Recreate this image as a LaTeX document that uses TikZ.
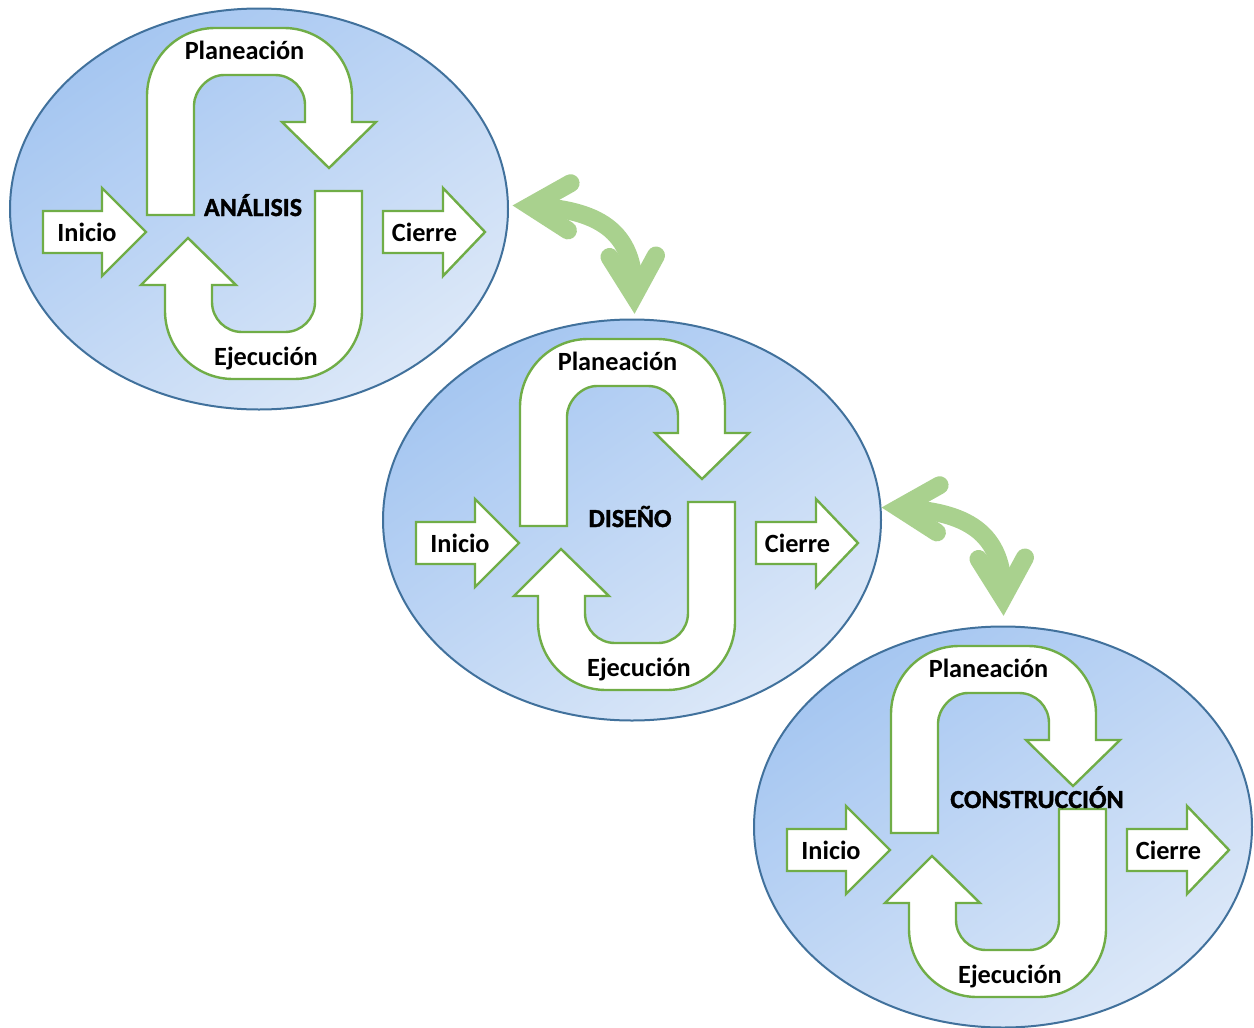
\documentclass[tikz,border=0pt]{standalone}
\usepackage{fontspec}
\setmainfont{Carlito}
\newfontfamily\heavyfont{Carlito Bold}[FakeBold=1.3]
\definecolor{ellborder}{HTML}{41719C}
\definecolor{elldark}{HTML}{A5C6F1}
\definecolor{elllight}{HTML}{DCE8F8}
\definecolor{grn}{HTML}{70AD47}
\definecolor{lgrn}{HTML}{A9D18E}
\tikzset{
  ell/.style={draw=ellborder, line width=2pt, top color=elldark, bottom color=elllight, shading angle=35},
  shp/.style={draw=grn, fill=white, line width=2.4pt, line join=miter},
  lbl/.style={font=\bfseries\fontsize{26.3}{31}\selectfont, inner sep=0pt, anchor=base},
  ttl/.style={font=\heavyfont\fontsize{26}{31}\selectfont, inner sep=0pt, anchor=base},
  curvebody/.style={draw=lgrn, line width=18pt},
  chevron/.style={draw=lgrn, line width=18pt, line cap=round, line join=miter},
}
\newcommand{\fasegroup}[6]{%
\begin{scope}[shift={(#2,#3)}]
  \shade[ell] (259,209) ellipse [x radius=249, y radius=200.5];
  % Planeacion U-turn arrow
  \draw[shp] (147,215) -- (147,96) .. controls (147,58.5) and (177.5,28) .. (215,28)
    -- (284,28) .. controls (321.5,28) and (352,58.5) .. (352,96)
    -- (352,122) -- (376,122) -- (329,168) -- (282,122) -- (305,122)
    -- (305,105) .. controls (305,88.4) and (291.6,75) .. (275,75)
    -- (224,75) .. controls (207.4,75) and (194,91.6) .. (194,105)
    -- (194,215) -- cycle;
  % Ejecucion U-turn arrow
  \draw[shp] (362,191) -- (362,311) .. controls (362,348.5) and (331.5,379) .. (294,379)
    -- (233,379) .. controls (195.5,379) and (165,348.5) .. (165,311)
    -- (165,285) -- (141,285) -- (188,238) -- (236,285) -- (212,285)
    -- (212,302) .. controls (212,318.6) and (225.4,332) .. (242,332)
    -- (285,332) .. controls (301.6,332) and (315,318.6) .. (315,302)
    -- (315,191) -- cycle;
  % Inicio arrow
  \draw[shp] (43,211) -- (102,211) -- (102,188) -- (146,232) -- (102,276) -- (102,253) -- (43,253) -- cycle;
  % Cierre arrow
  \draw[shp] (383,211) -- (443,211) -- (443,188) -- (485,232) -- (443,276) -- (443,253) -- (383,253) -- cycle;
  \node[lbl] (#1plan) at (244.5,59) {Planeación};
  \node[lbl] (#1ejec) at (266,365) {Ejecución};
  \node[lbl] (#1ini) at (87,241) {Inicio};
  \node[lbl] (#1cie) at (424.5,241) {Cierre};
  \node[ttl] (#1ttl) at (#5,#6) {#4};
\end{scope}}
\newcommand{\linkarrow}[2]{%
\begin{scope}[shift={(#1,#2)}]
  \draw[curvebody] (532,206) .. controls (595,210) and (636,228) .. (634,296);
  \draw[chevron] (570.6,183.2) -- (530,206) -- (567.9,230.4);
  \draw[chevron] (609.5,257) -- (634,296) -- (656,255.5);
\end{scope}}
\begin{document}
\begin{tikzpicture}[x=1pt,y=-1pt]
  \useasboundingbox (0,0) rectangle (1254,1028);
  \fasegroup{a}{0}{0}{ANÁLISIS}{253}{216}
  \fasegroup{b}{373}{311}{DISEÑO}{257}{216}
  \fasegroup{c}{744}{618}{CONSTRUCCIÓN}{293}{190}
  \linkarrow{0}{0}
  \linkarrow{369}{302}
\end{tikzpicture}
\end{document}
